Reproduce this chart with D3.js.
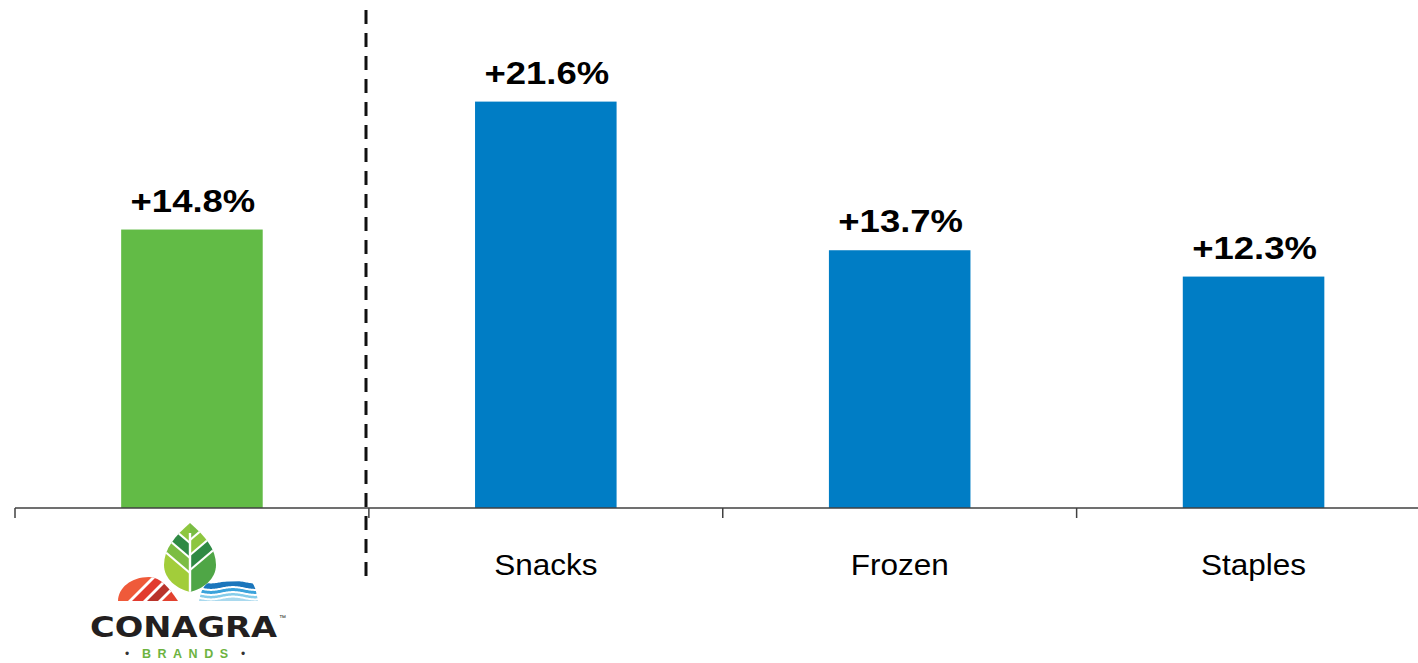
<!DOCTYPE html>
<html>
<head>
<meta charset="utf-8">
<script src="https://cdn.jsdelivr.net/npm/d3@7"></script>
<style>
  html, body { margin: 0; padding: 0; background: #ffffff; }
  svg { display: block; }
</style>
</head>
<body>
<svg id="chart" width="1418" height="663"></svg>
<script>
// ---- data ----
const categories = ["Conagra Brands", "Snacks", "Frozen", "Staples"];
const values = [14.8, 21.6, 13.7, 12.3];
const valueLabels = ["+14.8%", "+21.6%", "+13.7%", "+12.3%"];
const categoryLabels = ["", "Snacks", "Frozen", "Staples"];
const barColors = ["#62bb46", "#007dc5", "#007dc5", "#007dc5"];

const svg = d3.select("#chart");
const W = 1418, H = 663;
const baseY = 508;

const x = d3.scaleBand().domain(categories).range([15, 1430.5])
  .paddingInner(0.6).paddingOuter(0.3);
const xb = d3.scaleBand().domain(categories).range([15, 1430.5]).padding(0);
const y = d3.scaleLinear().domain([0, 27]).range([baseY, 0]);

// bars
svg.append("g").selectAll("rect").data(categories).join("rect")
  .attr("x", d => x(d))
  .attr("y", (d, i) => y(values[i]))
  .attr("width", x.bandwidth())
  .attr("height", (d, i) => y(0) - y(values[i]))
  .attr("fill", (d, i) => barColors[i]);

// stretch helper: widen text horizontally like the source rendering
function stretch(sel, factor) {
  sel.each(function () {
    const len = this.getComputedTextLength();
    if (len > 0) {
      d3.select(this).attr("textLength", len * factor).attr("lengthAdjust", "spacingAndGlyphs");
    }
  });
}

// value labels
const vl = svg.append("g").selectAll("text").data(categories).join("text")
  .attr("x", d => x(d) + x.bandwidth() / 2 + 1)
  .attr("y", (d, i) => y(values[i]) - 18)
  .attr("text-anchor", "middle")
  .attr("font-family", "Liberation Sans, Arial, sans-serif")
  .attr("font-weight", "bold")
  .attr("font-size", 32)
  .attr("fill", "#000")
  .text((d, i) => valueLabels[i]);
stretch(vl, 1.14);

// axis line & boundary ticks
const axisG = svg.append("g");
axisG.append("line")
  .attr("x1", 15).attr("x2", W).attr("y1", baseY).attr("y2", baseY)
  .attr("stroke", "#404040").attr("stroke-width", 1.5);
const tickPos = categories.map(c => xb(c)).concat([xb(categories[categories.length - 1]) + xb.bandwidth()]);
axisG.selectAll("line.tick").data(tickPos).join("line")
  .attr("class", "tick")
  .attr("x1", d => d).attr("x2", d => d)
  .attr("y1", baseY).attr("y2", baseY + 10)
  .attr("stroke", "#404040").attr("stroke-width", 1.5);

// category labels
const cl = svg.append("g").selectAll("text").data(categories).join("text")
  .attr("x", d => xb(d) + xb.bandwidth() / 2)
  .attr("y", 575)
  .attr("text-anchor", "middle")
  .attr("font-family", "Liberation Sans, Arial, sans-serif")
  .attr("font-size", 30)
  .attr("fill", "#000")
  .text((d, i) => categoryLabels[i]);
stretch(cl, 1.05);

// dashed divider
svg.append("line")
  .attr("x1", 366).attr("x2", 366).attr("y1", 10).attr("y2", 585)
  .attr("stroke", "#111").attr("stroke-width", 3)
  .attr("stroke-dasharray", "14 9");

// ---- logo ----
const logo = svg.append("g");
const defs = svg.append("defs");

// leaf
const leafPath = "M190,523 C205,536 216,549 216,565 C216,579 203,589 190,592 C177,589 164,579 164,565 C164,549 175,536 190,523 Z";
defs.append("clipPath").attr("id", "leafClip").append("path").attr("d", leafPath);
const leafG = logo.append("g").attr("clip-path", "url(#leafClip)");
const leftBands = [[490, 543, "#8dc63f"], [543, 558, "#2f8a44"], [558, 573, "#7cbd43"], [573, 620, "#a2cd3a"]];
const rightBands = [[490, 540, "#79bc43"], [540, 555, "#8dc63f"], [555, 570, "#2f8a44"], [570, 620, "#4fa646"]];
leftBands.forEach(b => {
  leafG.append("polygon")
    .attr("points", `190,${b[0]} 190,${b[1]} 150,${b[1] - 34} 150,${b[0] - 34}`)
    .attr("fill", b[2]);
});
rightBands.forEach(b => {
  leafG.append("polygon")
    .attr("points", `190,${b[0]} 190,${b[1]} 230,${b[1] - 34} 230,${b[0] - 34}`)
    .attr("fill", b[2]);
});
[543, 558, 573].forEach(v => leafG.append("line")
  .attr("x1", 190).attr("y1", v).attr("x2", 150).attr("y2", v - 34)
  .attr("stroke", "#fff").attr("stroke-width", 2.2));
[540, 555, 570].forEach(v => leafG.append("line")
  .attr("x1", 190).attr("y1", v).attr("x2", 230).attr("y2", v - 34)
  .attr("stroke", "#fff").attr("stroke-width", 2.2));
leafG.append("line").attr("x1", 190).attr("x2", 190).attr("y1", 533).attr("y2", 595)
  .attr("stroke", "#fff").attr("stroke-width", 2.4);

// red hill
const hillPath = "M118,601 C118,588 131,577 149,577 C161,577 169,588 178,601 Z";
defs.append("clipPath").attr("id", "hillClip").append("path").attr("d", hillPath);
const hillG = logo.append("g").attr("clip-path", "url(#hillClip)");
const hillBands = [[690, 731, "#ef5a3a"], [731, 746, "#e23b2f"], [746, 761, "#b9332b"], [761, 800, "#e2412f"]];
hillBands.forEach(b => {
  hillG.append("polygon")
    .attr("points", `${b[0] - 560},560 ${b[1] - 560},560 ${b[1] - 610},610 ${b[0] - 610},610`)
    .attr("fill", b[2]);
});
[731, 746, 761].forEach(c => hillG.append("line")
  .attr("x1", c - 560).attr("y1", 560).attr("x2", c - 610).attr("y2", 610)
  .attr("stroke", "#fff").attr("stroke-width", 2.8));

// blue waves
const waveClipPath = "M199,601 C201,591 204,584 210,582 L250,581 C255,584 256,591 258,601 Z";
defs.append("clipPath").attr("id", "waveClip").append("path").attr("d", waveClipPath);
const waveG = logo.append("g").attr("clip-path", "url(#waveClip)");
const waveBands = [[582, 587.5, "#1b76bc"], [589.5, 592.5, "#3ba3db"], [594.5, 597, "#86cdea"], [599, 603, "#a9d9ee"]];
const xs = d3.range(195, 262, 1);
const waveArea = d3.area()
  .x(d => d.x).y0(d => d.y0).y1(d => d.y1).curve(d3.curveBasis);
waveBands.forEach(b => {
  const pts = xs.map(xx => {
    const off = 1.4 * Math.sin((xx - 200) / 7);
    return { x: xx, y0: b[1] + off, y1: b[0] + off };
  });
  waveG.append("path").attr("d", waveArea(pts)).attr("fill", b[2]);
});

// logo text
logo.append("text")
  .attr("x", 90).attr("y", 637)
  .attr("font-family", "DejaVu Sans, Arial, sans-serif")
  .attr("font-weight", "bold")
  .attr("font-size", 28)
  .attr("textLength", 187).attr("lengthAdjust", "spacingAndGlyphs")
  .attr("fill", "#231f20")
  .text("CONAGRA");
logo.append("text")
  .attr("x", 279).attr("y", 620)
  .attr("font-family", "Liberation Sans, Arial, sans-serif")
  .attr("font-size", 7)
  .attr("fill", "#231f20")
  .text("™");
logo.append("text")
  .attr("x", 127).attr("y", 658)
  .attr("text-anchor", "middle")
  .attr("font-family", "Liberation Sans, Arial, sans-serif")
  .attr("font-size", 12)
  .attr("fill", "#333")
  .text("•");
logo.append("text")
  .attr("x", 243).attr("y", 658)
  .attr("text-anchor", "middle")
  .attr("font-family", "Liberation Sans, Arial, sans-serif")
  .attr("font-size", 12)
  .attr("fill", "#333")
  .text("•");
logo.append("text")
  .attr("x", 142).attr("y", 658)
  .attr("font-family", "Liberation Sans, Arial, sans-serif")
  .attr("font-weight", "bold")
  .attr("font-size", 12.5)
  .attr("textLength", 86).attr("lengthAdjust", "spacing")
  .attr("fill", "#6db33f")
  .text("BRANDS");
</script>
</body>
</html>
